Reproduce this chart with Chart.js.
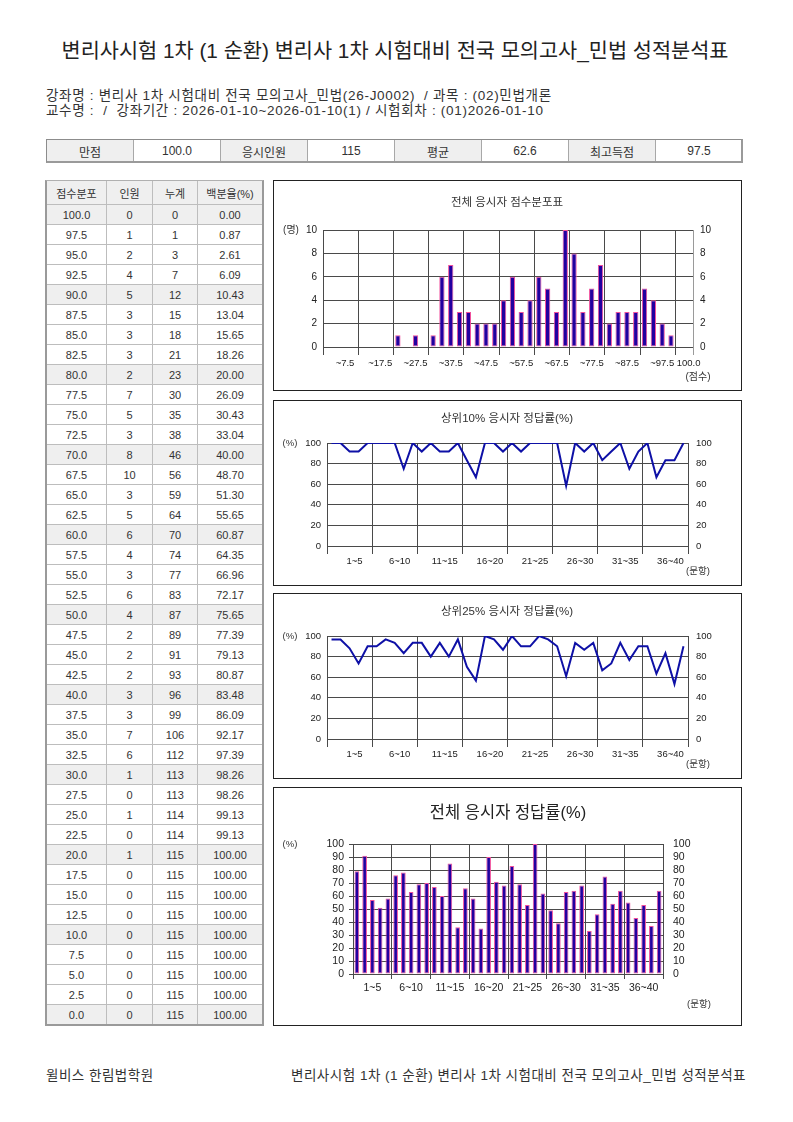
<!DOCTYPE html>
<html lang="ko">
<head>
<meta charset="utf-8">
<script src="https://cdn.jsdelivr.net/npm/chart.js@4.4.1/dist/chart.umd.min.js"></script>
<style>
html,body{margin:0;padding:0;background:#fff;}
body{font-family:"Liberation Sans","Noto Sans CJK KR",sans-serif;color:#222;}
#page{position:relative;width:793px;height:1122px;overflow:hidden;background:#fff;}
.t{position:absolute;white-space:nowrap;line-height:1;}
.c{transform:translate(-50%,-50%);}
.l{transform:translate(0,-50%);}
.r{transform:translate(-100%,-50%);}
.box{position:absolute;border:1px solid #222;box-sizing:border-box;}
canvas{position:absolute;}
.cell{position:absolute;box-sizing:border-box;border:1px solid #bdbdbd;display:flex;align-items:center;justify-content:center;font-size:11px;color:#333;white-space:nowrap;}
.gray{background:#efefef;}
</style>
</head>
<body>
<div id="page">
  <div class="t c" style="left:395px;top:51px;font-size:20.8px;color:#222;">변리사시험 1차 (1 순환) 변리사 1차 시험대비 전국 모의고사_민법 성적분석표</div>
  <div class="t l" style="left:46px;top:96px;font-size:13.5px;letter-spacing:0.7px;color:#333;">강좌명 : 변리사 1차 시험대비 전국 모의고사_민법(26-J0002)&nbsp; / 과목 : (02)민법개론</div>
  <div class="t l" style="left:46px;top:111px;font-size:13.5px;letter-spacing:0.7px;color:#333;">교수명 :&nbsp; / &nbsp;강좌기간 : 2026-01-10~2026-01-10(1) / 시험회차 : (01)2026-01-10</div>

  <div id="summary"></div>
  <div id="dist"></div>

  <!-- chart 1 -->
  <div class="box" style="left:273px;top:180px;width:469px;height:211px;"></div>
  <canvas id="c1" width="467" height="209" style="left:274px;top:181px;"></canvas>
  <div class="t c" style="left:507px;top:203px;font-size:11.5px;color:#333;">전체 응시자 점수분포표</div>
  <div class="t c" style="left:291px;top:230px;font-size:10px;color:#333;">(명)</div>
  <div class="t c" style="left:698px;top:377px;font-size:10px;color:#333;">(점수)</div>

  <!-- chart 2 -->
  <div class="box" style="left:273px;top:400px;width:469px;height:186px;"></div>
  <canvas id="c2" width="467" height="184" style="left:274px;top:401px;"></canvas>
  <div class="t c" style="left:507px;top:419px;font-size:11.5px;color:#333;">상위10% 응시자 정답률(%)</div>
  <div class="t c" style="left:290px;top:443px;font-size:9.5px;color:#333;">(%)</div>
  <div class="t c" style="left:698px;top:571px;font-size:9.5px;color:#333;">(문항)</div>

  <!-- chart 3 -->
  <div class="box" style="left:273px;top:593px;width:469px;height:186px;"></div>
  <canvas id="c3" width="467" height="184" style="left:274px;top:594px;"></canvas>
  <div class="t c" style="left:507px;top:612px;font-size:11.5px;color:#333;">상위25% 응시자 정답률(%)</div>
  <div class="t c" style="left:290px;top:636px;font-size:9.5px;color:#333;">(%)</div>
  <div class="t c" style="left:698px;top:764px;font-size:9.5px;color:#333;">(문항)</div>

  <!-- chart 4 -->
  <div class="box" style="left:273px;top:787px;width:469px;height:239px;"></div>
  <canvas id="c4" width="467" height="237" style="left:274px;top:788px;"></canvas>
  <div class="t c" style="left:508px;top:812px;font-size:16.5px;color:#222;">전체 응시자 정답률(%)</div>
  <div class="t c" style="left:290px;top:844px;font-size:9.5px;color:#333;">(%)</div>
  <div class="t c" style="left:699px;top:1004px;font-size:9.5px;color:#333;">(문항)</div>

  <div class="t l" style="left:46px;top:1076px;font-size:13.5px;letter-spacing:0.5px;color:#333;">윌비스 한림법학원</div>
  <div class="t r" style="left:746px;top:1076px;font-size:13.5px;letter-spacing:0.5px;color:#333;">변리사시험 1차 (1 순환) 변리사 1차 시험대비 전국 모의고사_민법 성적분석표</div>
</div>

<script>
// ---------- data ----------
const summaryLabels = ['만점','응시인원','평균','최고득점'];
const summaryValues = ['100.0','115','62.6','97.5'];

const tableHeader = ['점수분포','인원','누계','백분율(%)'];
const scoreLevels = ['100.0','97.5','95.0','92.5','90.0','87.5','85.0','82.5','80.0','77.5','75.0','72.5','70.0','67.5','65.0','62.5','60.0','57.5','55.0','52.5','50.0','47.5','45.0','42.5','40.0','37.5','35.0','32.5','30.0','27.5','25.0','22.5','20.0','17.5','15.0','12.5','10.0','7.5','5.0','2.5','0.0'];
const headcount = [0,1,2,4,5,3,3,3,2,7,5,3,8,10,3,5,6,4,3,6,4,2,2,2,3,3,7,6,1,0,1,0,1,0,0,0,0,0,0,0,0];
const cumulative = [0,1,3,7,12,15,18,21,23,30,35,38,46,56,59,64,70,74,77,83,87,89,91,93,96,99,106,112,113,113,114,114,115,115,115,115,115,115,115,115,115];
const percentile = ['0.00','0.87','2.61','6.09','10.43','13.04','15.65','18.26','20.00','26.09','30.43','33.04','40.00','48.70','51.30','55.65','60.87','64.35','66.96','72.17','75.65','77.39','79.13','80.87','83.48','86.09','92.17','97.39','98.26','98.26','99.13','99.13','100.00','100.00','100.00','100.00','100.00','100.00','100.00','100.00','100.00'];

const histTickText = ['~7.5','~17.5','~27.5','~37.5','~47.5','~57.5','~67.5','~77.5','~87.5','~97.5','100.0'];
const questionGroups = ['1~5','6~10','11~15','16~20','21~25','26~30','31~35','36~40'];

const top10Rate = [100,100,91.67,91.67,100, 100,100,100,75,100, 91.67,100,91.67,91.67,100, 83.33,66.67,100,100,91.67, 100,91.67,100,100,100, 100,58.33,100,91.67,100, 83.33,91.67,100,75,91.67, 100,66.67,83.33,83.33,100];
const top25Rate = [96.67,96.67,88,73.33,90, 90,96.67,93.33,83.33,93.33, 93.33,80,93.33,80,96.67, 70,56.67,100,96.67,86.67, 100,90,90,100,96.67, 90,61,93.33,86.67,93.33, 66.67,73.33,93.33,76.67,90, 90,63.33,83.33,53.33,90];
const allRate = [79,91,57,51,58, 76,78,63,69,70, 67,60,85,36,66, 58,35,90,71,68, 83,69,53,100,62, 49,39,63,64,68, 33,46,75,54,64, 55,43,53,37,64];

// ---------- tables ----------
(function(){
  const s = document.getElementById('summary');
  const x0 = 46, y0 = 139, w = 87, h = 24;
  for (let k = 0; k < 8; k++) {
    const d = document.createElement('div');
    const isLabel = k % 2 === 0;
    d.className = 'cell' + (isLabel ? ' gray' : '');
    d.style.cssText = `left:${x0 + k*w}px;top:${y0}px;width:${w+1}px;height:${h}px;font-size:12px;border-color:#a8a8a8;`;
    d.textContent = isLabel ? summaryLabels[k/2] : summaryValues[(k-1)/2];
    s.appendChild(d);
  }
  const ol = document.createElement('div');
  ol.style.cssText = `position:absolute;left:${x0}px;top:${y0}px;width:${8*w+1}px;height:${h}px;box-sizing:border-box;border:1px solid #8c8c8c;border-bottom:2px solid #9a9a9a;border-right:2px solid #9a9a9a;`;
  s.appendChild(ol);

  const t = document.getElementById('dist');
  const cx = [46,106,152,197,262];
  const headTop = 180, headH = 24, rowH = 20;
  function add(c, top, hgt, text, gray){
    const d = document.createElement('div');
    d.className = 'cell' + (gray ? ' gray' : '');
    d.style.cssText = `left:${cx[c]}px;top:${top}px;width:${cx[c+1]-cx[c]+1}px;height:${hgt+1}px;`;
    d.textContent = text;
    t.appendChild(d);
  }
  tableHeader.forEach((txt,c)=>add(c, headTop, headH, txt, true));
  scoreLevels.forEach((lv,r)=>{
    const top = headTop + headH + r*rowH;
    const gray = r % 4 === 0;
    add(0, top, rowH, lv, gray);
    add(1, top, rowH, String(headcount[r]), gray);
    add(2, top, rowH, String(cumulative[r]), gray);
    add(3, top, rowH, percentile[r], gray);
  });
  const ob = document.createElement('div');
  const bottom = headTop + headH + scoreLevels.length*rowH + 1;
  ob.style.cssText = `position:absolute;left:${cx[0]-1}px;top:${headTop}px;width:${cx[4]-cx[0]+3}px;height:${bottom-headTop+1}px;box-sizing:border-box;border:2px solid #9a9a9a;border-top:1px solid #b0b0b0;`;
  t.appendChild(ob);
})();

// ---------- charts ----------
Chart.defaults.font.family = '"Liberation Sans","Noto Sans CJK KR",sans-serif';
Chart.defaults.color = '#222';
const GRID = '#4a4a4a';
const NONE = 'rgba(0,0,0,0)';
const BAR_FILL = '#2200a0';
const BAR_EDGE = '#f0509c';
const LINE = '#0e10a6';

function base(top){
  return {
    responsive:false, animation:false, devicePixelRatio:1,
    layout:{padding:{top:top,left:0,right:0,bottom:0}},
    plugins:{legend:{display:false}, tooltip:{enabled:false}}
  };
}
function sideAxis(pos, width, max, step, pad, size, gridOpts){
  return {
    position:pos, min:0, max:max,
    ticks:{stepSize:step, autoSkip:false, padding:pad, font:{size:size}, color:'#222'},
    grid: gridOpts || {display:false, drawTicks:false},
    border:{display:false},
    afterFit:s=>{s.width = width;}
  };
}
function groupLabels(n, every, texts, first){
  const arr = new Array(n).fill('');
  texts.forEach((tx,k)=>{ arr[first + k*every] = tx; });
  return arr;
}

// chart 1: score histogram (ascending score bins)
const histData = headcount.slice().reverse();
histData.push(null);
const histLabels = new Array(histData.length).fill('');
histTickText.forEach((tx,k)=>{ const idx = k < histTickText.length-1 ? 2 + 4*k : histData.length-1; histLabels[idx] = tx; });

new Chart(document.getElementById('c1'), {
  type:'bar',
  data:{labels:histLabels, datasets:[{data:histData.map(v=>v===0?null:v), backgroundColor:BAR_FILL, borderColor:BAR_EDGE, borderWidth:1, borderSkipped:false, barPercentage:0.6, categoryPercentage:1}]},
  options:Object.assign(base(49), {
    scales:{
      x:{offset:true,
         grid:{offset:true, lineWidth:1, drawTicks:true, tickLength:8,
               color:c=>{ if (c.index===undefined) return '#9a9a9a'; return c.index%4===0 ? GRID : NONE; }},
         border:{display:false},
         ticks:{autoSkip:false, maxRotation:0, minRotation:0, padding:3, font:{size:9.5}, color:'#222'},
         afterFit:s=>{s.height = 43;}},
      y:sideAxis('left', 49, 10, 2, 6, 10, {color:GRID, drawTicks:false}),
      y2:sideAxis('right', 48, 10, 2, 7, 10)
    }
  })
});

// charts 2 & 3: line charts
function lineChart(id, values){
  const labels = groupLabels(values.length, 5, questionGroups, 2);
  return new Chart(document.getElementById(id), {
    type:'line',
    data:{labels:labels, datasets:[{data:values, borderColor:LINE, borderWidth:2, pointRadius:0, tension:0, fill:false}]},
    options:Object.assign(base(42), {
      scales:{
        x:{offset:true,
           grid:{offset:true, lineWidth:1, drawTicks:true, tickLength:8,
                 color:c=>{ if (c.index===undefined) return GRID; return c.index%5===0 ? GRID : NONE; }},
           border:{display:false},
           ticks:{autoSkip:false, maxRotation:0, minRotation:0, padding:2, labelOffset:5, font:{size:9.5}, color:'#222'},
           afterFit:s=>{s.height = 39;}},
        y:sideAxis('left', 53, 100, 20, 6, 9.5, {color:GRID, drawTicks:false}),
        y2:sideAxis('right', 53, 100, 20, 8, 9.5)
      }
    })
  });
}
lineChart('c2', top10Rate);
lineChart('c3', top25Rate);

// chart 4: correct rate of all examinees
new Chart(document.getElementById('c4'), {
  type:'bar',
  data:{labels:groupLabels(allRate.length, 5, questionGroups, 2), datasets:[{data:allRate, backgroundColor:BAR_FILL, borderColor:BAR_EDGE, borderWidth:1, borderSkipped:false, barPercentage:0.6, categoryPercentage:1}]},
  options:Object.assign(base(56), {
    scales:{
      x:{offset:true,
         grid:{offset:true, lineWidth:1, drawTicks:true, tickLength:5,
               color:c=>{ if (c.index===undefined) return GRID; return c.index%5===0 ? GRID : NONE; }},
         border:{display:false},
         ticks:{autoSkip:false, maxRotation:0, minRotation:0, padding:3, font:{size:10.5}, color:'#222'},
         afterFit:s=>{s.height = 51;}},
      y:sideAxis('left', 79, 100, 10, 5, 10.5, {color:GRID, drawTicks:true, tickLength:4}),
      y2:sideAxis('right', 78, 100, 10, 10, 10.5)
    }
  })
});
</script>
</body>
</html>
